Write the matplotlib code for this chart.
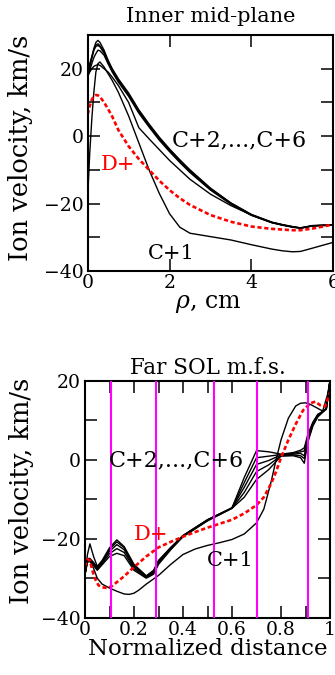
import numpy as np
import matplotlib
matplotlib.use("Agg")
import matplotlib.pyplot as plt
from matplotlib.ticker import MultipleLocator, FuncFormatter

plt.rcParams['font.family'] = ['DejaVu Serif']
plt.rcParams['mathtext.fontset'] = 'dejavuserif'
plt.rcParams['axes.unicode_minus'] = True

# ---- top panel: inner mid-plane, rho in cm
rho = [0, .05, .1, .15, .2, .25, .3, .4, .5, .6, .75, 1.0, 1.25, 1.5, 1.75, 2.0,
       2.25, 2.5, 3.0, 3.5, 4.0, 4.5, 4.75, 5.0, 5.2, 5.5, 6.0]
mid_c1 = [-18, -5, 5, 13, 19, 21.5, 22, 20.5, 18.5, 16.5, 13, 6, -2, -10, -17, -23,
          -27, -28.8, -29.8, -30.8, -32.2, -33.5, -34, -34.3, -34.2, -33.2, -31.5]
mid_c2 = [18, 19, 20, 20.7, 21, 21.2, 21, 20, 19, 17.5, 15, 10, 2.5, -0.8, -4, -7.2,
          -10, -12.8, -17.2, -20.6, -23.4, -25.6, -26.3, -26.9, -27.2, -26.6, -26.4]
mid_c3 = [19, 21, 23.5, 26, 27.8, 28.4, 27.8, 25.5, 22.5, 20, 17, 12.8, 7.8, 3.6, -0.3, -3.8,
          -7, -10, -15.4, -19.8, -23.2, -25.5, -26.2, -26.8, -27.2, -26.5, -26.3]
mid_c4 = [18.5, 20.5, 23, 25.5, 27, 27.4, 26.8, 25, 22, 19.7, 16.7, 12.5, 7.5, 3.3, -0.6, -4,
          -7.2, -10.2, -15.6, -19.9, -23.3, -25.6, -26.3, -26.9, -27.3, -26.6, -26.3]
mid_c5 = [20, 21.5, 23.5, 25.5, 26.6, 26.9, 26.5, 24.6, 21.8, 19.4, 16.4, 12.2, 7.2, 3.0, -0.9, -4.3,
          -7.5, -10.5, -15.8, -20.0, -23.4, -25.6, -26.3, -26.9, -27.3, -26.6, -26.4]
mid_c6 = [17.5, 19.5, 21.5, 23.3, 24.5, 25.5, 25.3, 24, 21.4, 19, 16, 11.8, 6.8, 2.7, -1.2, -4.6,
          -7.8, -10.8, -16, -20.2, -23.5, -25.7, -26.4, -27, -27.3, -26.6, -26.4]
mid_d = [6.5, 9, 10.8, 11.8, 12.2, 12.1, 11.7, 10, 8, 5.8, 1.8, -3, -6.8, -10, -13.2, -16,
         -18.4, -20.4, -23.4, -25.4, -26.8, -27.5, -27.7, -27.9, -27.9, -27.4, -26.2]

# ---- bottom panel: far SOL m.f.s., normalized distance
s_c = [0, .01, .02, .035, .05, .07, .10, .13, .16, .20, .25, .28, .30, .35, .40, .50,
       .60, .65, .70, .75, .80, .85, .88, .895, .91, .93, .95, .97, .985, 1.0]
sol_c2 = [-29, -24, -21.3, -24.5, -27, -25.5, -22.3, -20.3, -22, -26.5, -29.4, -28, -25.5, -22.2, -19.2,
          -15.2, -12.2, -4.5, 2.3, 2.0, 1.4, 1.8, 2.4, 3.0, 6.5, 9.5, 11.5, 12.2, 13, 20]
sol_c3 = [-29, -25, -25, -26, -27.3, -25.8, -22.7, -20.8, -22.3, -26.8, -29.5, -28.2, -25.7, -22.3, -19.2,
          -15.2, -12.2, -5.8, 0.5, 0.9, 1.3, 1.6, 2.0, 2.2, 6, 9.2, 11.3, 12.2, 13, 20]
sol_c4 = [-29, -25.2, -25.2, -26.2, -27.5, -26, -23.2, -21.5, -22.8, -27.2, -29.6, -28.4, -25.9, -22.4, -19.3,
          -15.3, -12.2, -7, -1.2, -0.2, 1.2, 1.4, 1.6, 1.0, 5.5, 9.0, 11.2, 12.1, 12.9, 20]
sol_c5 = [-29, -25.5, -25.5, -26.5, -27.8, -26.3, -23.8, -22.5, -23.5, -27.6, -29.8, -28.7, -26.2, -22.6, -19.4,
          -15.4, -12.3, -8.3, -3.0, -1.3, 1.0, 1.2, 1.0, 0.3, 5.0, 8.8, 11.0, 12.1, 12.9, 20]
sol_c6 = [-29, -25.8, -25.8, -26.8, -28, -26.6, -24.5, -23.7, -24.3, -28, -30, -29, -26.5, -22.8, -19.5,
          -15.5, -12.3, -9.5, -5.0, -2.5, 0.9, 1.0, 0.5, -0.9, 4.5, 8.5, 10.8, 12.0, 12.8, 20]

s_c1 = [0, .01, .02, .035, .05, .07, .10, .13, .16, .18, .20, .22, .25, .30, .35, .40, .45, .50,
        .55, .60, .65, .70, .73, .76, .78, .80, .83, .86, .88, .90, .92, .95, .97, .99, 1.0]
sol_c1 = [-29, -26, -25.5, -27.5, -30, -31.5, -32.5, -33.3, -34, -34.1, -33.8, -33, -31.5, -29.3, -26.5,
          -24, -22.6, -21.7, -21, -20.2, -18.8, -16, -12.5, -5.5, 0, 5, 10.5, 13.6, 14.3, 14.4, 14,
          13, 12.3, 16.5, 20]

s_d = [0, .01, .02, .03, .04, .055, .07, .09, .11, .13, .16, .20, .25, .30, .35, .40, .45, .50,
       .55, .60, .65, .70, .73, .76, .78, .80, .83, .86, .89, .92, .94, .96, .98, 1.0]
sol_d = [-27, -25.2, -25.5, -28, -30, -31.8, -32.3, -32.5, -32, -31, -29.5, -27.2, -24.5, -22.2, -20.8,
         -19.5, -18.3, -17.2, -16.2, -15.2, -13.6, -11.5, -9.5, -6, -3, 0.5, 5, 9, 12.5, 14.3, 14.7,
         13.8, 13.5, 17]

# magenta markers along the flux surface
marks = [0.105, 0.288, 0.525, 0.70, 0.909]

W, H = 335, 675
fig = plt.figure(figsize=(W / 100, H / 100), dpi=100)


def style(ax):
    for sp in ax.spines.values():
        sp.set_linewidth(1.5)
    ax.tick_params(which='both', direction='in', top=True, right=True,
                   length=8.5, width=1.1, labelsize=13.5, pad=2.5)
    ax.tick_params(axis='y', which='both', pad=3)


fmt = FuncFormatter(lambda v, p: ('%g' % v).replace('-', '\u2212'))

# top panel
ax1 = fig.add_axes([87.7 / W, 1 - 271 / H, 245.5 / W, 236 / H])
for y in [mid_c2, mid_c3, mid_c4, mid_c5, mid_c6, mid_c1]:
    ax1.plot(rho, y, color='black', lw=1.0)
ax1.plot(rho, mid_d, color='red', lw=1.9, ls=(0, (1.6, 1.0)))
ax1.set_xlim(0, 6)
ax1.set_ylim(-40, 30)
ax1.xaxis.set_major_locator(MultipleLocator(2))
ax1.yaxis.set_major_locator(MultipleLocator(20))
ax1.yaxis.set_minor_locator(MultipleLocator(10))
ax1.yaxis.set_major_formatter(fmt)
style(ax1)
ax1.text(0.5, 1.08, 'Inner mid-plane', transform=ax1.transAxes,
         ha='center', va='center', fontsize=15)
ax1.set_xlabel('$\\rho$, cm', fontsize=17)
ax1.xaxis.set_label_coords(0.49, -0.09)
ax1.set_ylabel('Ion velocity, km/s', fontsize=18.5)
ax1.yaxis.set_label_coords(-0.222, 0.52)
ax1.text(3.71, -1.4, 'C+2,...,C+6', fontsize=16, ha='center', va='center')
ax1.text(0.74, -8.5, 'D+', fontsize=15, color='red', ha='center', va='center')
ax1.text(2.05, -34.9, 'C+1', fontsize=15, ha='center', va='center')

# bottom panel
ax2 = fig.add_axes([85 / W, 1 - 617.7 / H, 245 / W, 237 / H])
for y in [sol_c2, sol_c3, sol_c4, sol_c5, sol_c6]:
    ax2.plot(s_c, y, color='black', lw=1.0)
ax2.plot(s_c1, sol_c1, color='black', lw=1.0)
ax2.plot(s_d, sol_d, color='red', lw=1.9, ls=(0, (1.6, 1.0)))
for m in marks:
    ax2.axvline(m, color='magenta', lw=1.5, zorder=3)
ax2.set_xlim(0, 1)
ax2.set_ylim(-40, 20)
ax2.xaxis.set_major_locator(MultipleLocator(0.2))
ax2.xaxis.set_minor_locator(MultipleLocator(0.1))
ax2.yaxis.set_major_locator(MultipleLocator(20))
ax2.yaxis.set_minor_locator(MultipleLocator(10))
ax2.xaxis.set_major_formatter(fmt)
ax2.yaxis.set_major_formatter(fmt)
style(ax2)
ax2.text(0.5, 1.055, 'Far SOL m.f.s.', transform=ax2.transAxes,
         ha='center', va='center', fontsize=15.5)
ax2.set_xlabel('Normalized distance', fontsize=16.5)
ax2.xaxis.set_label_coords(0.5, -0.085)
ax2.set_ylabel('Ion velocity, km/s', fontsize=18.5)
ax2.yaxis.set_label_coords(-0.21, 0.535)
ax2.text(0.371, -0.3, 'C+2,...,C+6', fontsize=16, ha='center', va='center', zorder=4)
ax2.text(0.27, -18.9, 'D+', fontsize=15, color='red', ha='center', va='center', zorder=4)
ax2.text(0.595, -25.6, 'C+1', fontsize=15, ha='center', va='center', zorder=4)

fig.savefig('out.png', dpi=100)
